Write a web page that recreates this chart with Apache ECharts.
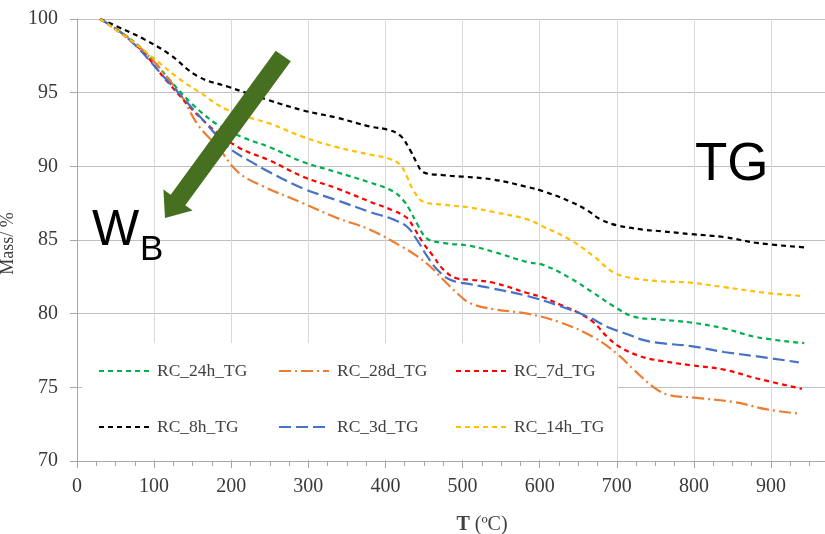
<!DOCTYPE html>
<html>
<head>
<meta charset="utf-8">
<script src="https://cdn.jsdelivr.net/npm/echarts@6/dist/echarts.min.js"></script>
<style>html,body{margin:0;padding:0;background:#fff}#c{width:825px;height:534px}</style>
</head>
<body>
<div id="c"></div>
<script>
// ---- data ----
const seriesNames = ['RC_24h_TG', 'RC_28d_TG', 'RC_7d_TG', 'RC_8h_TG', 'RC_3d_TG', 'RC_14h_TG'];
const xTicks = [0, 100, 200, 300, 400, 500, 600, 700, 800, 900];
const yTicks = [70, 75, 80, 85, 90, 95, 100];

const rc24hT = [30, 57, 90, 118, 148, 183, 218, 250, 293, 337, 380, 410, 423, 432, 441, 454, 475, 510, 540, 584, 605, 640, 670, 696, 722, 757, 796, 839, 882, 943];
const rc24hM = [100, 99.1, 97.7, 96.0, 94.3, 92.8, 91.9, 91.3, 90.3, 89.6, 88.9, 88.3, 87.7, 87.0, 86.1, 85.1, 84.8, 84.6, 84.2, 83.5, 83.3, 82.4, 81.4, 80.5, 79.8, 79.6, 79.4, 79.0, 78.4, 78.0];

const rc28dT = [30, 79, 131, 157, 183, 209, 239, 293, 337, 380, 423, 441, 458, 475, 497, 510, 540, 584, 627, 670, 702, 722, 748, 766, 800, 852, 895, 939];
const rc28dM = [100, 98.2, 95.1, 92.8, 91.3, 89.6, 88.7, 87.5, 86.5, 85.7, 84.5, 83.9, 83.2, 82.3, 81.2, 80.7, 80.3, 80.0, 79.4, 78.4, 77.2, 76.2, 75.0, 74.5, 74.3, 74.0, 73.5, 73.2];

const rc7dT = [30, 79, 118, 166, 209, 250, 293, 337, 380, 410, 428, 436, 449, 462, 475, 492, 510, 540, 584, 605, 627, 649, 670, 688, 705, 731, 757, 796, 839, 882, 940];
const rc7dM = [100, 98.1, 95.7, 93.0, 91.3, 90.4, 89.3, 88.5, 87.6, 87.0, 86.5, 85.9, 84.8, 83.9, 83.0, 82.4, 82.3, 82.1, 81.4, 81.1, 80.6, 80.1, 79.4, 78.4, 77.7, 77.1, 76.8, 76.5, 76.2, 75.6, 74.9];

const rc8hT = [30, 60, 88, 120, 157, 196, 248, 293, 337, 380, 402, 419, 432, 441, 449, 475, 501, 540, 584, 605, 640, 662, 679, 700, 735, 757, 796, 839, 882, 943];
const rc8hM = [100, 99.3, 98.6, 97.6, 96.1, 95.4, 94.5, 93.8, 93.3, 92.7, 92.5, 92.1, 91.1, 90.2, 89.6, 89.4, 89.3, 89.1, 88.6, 88.3, 87.6, 87.0, 86.4, 86.0, 85.7, 85.6, 85.4, 85.2, 84.8, 84.5];

const rc3dT = [30, 66, 114, 166, 196, 226, 250, 293, 337, 380, 410, 428, 441, 454, 467, 484, 510, 540, 584, 627, 662, 688, 714, 735, 757, 796, 839, 882, 936];
const rc3dM = [100, 98.7, 96.0, 93.0, 91.3, 90.3, 89.6, 88.5, 87.7, 86.9, 86.4, 85.9, 85.0, 83.9, 83.0, 82.3, 82.0, 81.7, 81.2, 80.5, 79.8, 79.1, 78.6, 78.2, 78.0, 77.8, 77.4, 77.1, 76.7];

const rc14hT = [30, 66, 105, 131, 157, 196, 250, 293, 337, 380, 406, 419, 428, 436, 449, 475, 510, 540, 584, 605, 640, 670, 696, 722, 757, 796, 839, 896, 940];
const rc14hM = [100, 98.7, 97.1, 96.0, 95.1, 93.8, 92.9, 92.0, 91.3, 90.8, 90.5, 90.1, 89.3, 88.4, 87.6, 87.4, 87.2, 86.9, 86.4, 85.9, 85.0, 83.9, 82.8, 82.4, 82.2, 82.1, 81.8, 81.4, 81.2];

// ---- build ----
const zip = (a, b) => a.map((v, i) => [v, b[i]]);
const serif = '"Liberation Serif", "DejaVu Serif", serif';
const sans = '"Liberation Sans", Arial, sans-serif';

const styles = {
  'RC_24h_TG': { color: '#00b050', type: [5, 4] },
  'RC_28d_TG': { color: '#ed7d31', type: [12, 4, 2, 4] },
  'RC_7d_TG':  { color: '#ff0000', type: [5, 4] },
  'RC_8h_TG':  { color: '#000000', type: [5, 4] },
  'RC_3d_TG':  { color: '#4472c4', type: [12, 5] },
  'RC_14h_TG': { color: '#ffc000', type: [5, 4] }
};
const dataMap = {
  'RC_24h_TG': zip(rc24hT, rc24hM),
  'RC_28d_TG': zip(rc28dT, rc28dM),
  'RC_7d_TG':  zip(rc7dT, rc7dM),
  'RC_8h_TG':  zip(rc8hT, rc8hM),
  'RC_3d_TG':  zip(rc3dT, rc3dM),
  'RC_14h_TG': zip(rc14hT, rc14hM)
};

const series = seriesNames.map(n => ({
  name: n,
  type: 'line',
  data: dataMap[n],
  symbol: 'none',
  smooth: 0.4,
  color: styles[n].color,
  lineStyle: { color: styles[n].color, width: 2.2, type: styles[n].type },
  z: 2
}));

const legendBase = {
  orient: 'vertical',
  itemWidth: 50,
  itemHeight: 20,
  itemGap: 36,
  padding: 0,
  selectedMode: false,
  itemStyle: { opacity: 0 },
  textStyle: { fontFamily: serif, fontSize: 17.5, color: '#404040', lineHeight: 20, padding: [0, 0, 0, 3] }
};

const chart = echarts.init(document.getElementById('c'), null, { renderer: 'canvas' });
chart.setOption({
  backgroundColor: '#ffffff',
  animation: false,
  grid: { left: 77, right: 0, top: 19, bottom: 73, containLabel: false, outerBoundsMode: 'none' },
  xAxis: {
    type: 'value',
    min: 0, max: 970, interval: 100,
    name: '{b|T} (ºC)',
    nameLocation: 'middle',
    nameGap: 54,
    nameTextStyle: {
      fontFamily: serif, fontSize: 20, color: '#404040', padding: [0, 0, 0, 62],
      rich: { b: { fontFamily: serif, fontSize: 20, fontWeight: 'bold', color: '#404040' } }
    },
    axisLine: { show: true, lineStyle: { color: '#a6a6a6', width: 1 } },
    axisTick: { show: true, length: 7, lineStyle: { color: '#a6a6a6' } },
    minorTick: { show: true, splitNumber: 4, length: 5, lineStyle: { color: '#a6a6a6' } },
    axisLabel: {
      fontFamily: serif, fontSize: 20, color: '#3a3a3a', margin: 16,
      showMaxLabel: false,
      formatter: v => (xTicks.indexOf(v) >= 0 ? String(v) : '')
    },
    splitLine: { show: true, showMaxLine: false, lineStyle: { color: '#d9d9d9', width: 1 } }
  },
  yAxis: {
    type: 'value',
    min: 70, max: 100, interval: 5,
    name: 'Mass/ %',
    nameLocation: 'middle',
    nameGap: 48,
    nameTextStyle: { fontFamily: serif, fontSize: 18, color: '#3a3a3a', padding: [0, 7, 0, 0] },
    axisLine: { show: true, lineStyle: { color: '#a6a6a6', width: 1 } },
    axisTick: { show: true, length: 7, lineStyle: { color: '#a6a6a6' } },
    axisLabel: {
      fontFamily: serif, fontSize: 20, color: '#3a3a3a', margin: 19,
      formatter: v => (yTicks.indexOf(v) >= 0 ? String(v) : '')
    },
    splitLine: { show: true, lineStyle: { color: '#bfbfbf', width: 1 } }
  },
  legend: [
    Object.assign({}, legendBase, { left: 98, top: 361, data: ['RC_24h_TG', 'RC_8h_TG'] }),
    Object.assign({}, legendBase, { left: 278, top: 361, data: ['RC_28d_TG', 'RC_3d_TG'] }),
    Object.assign({}, legendBase, { left: 455, top: 361, data: ['RC_7d_TG', 'RC_14h_TG'] })
  ],
  graphic: [
    { type: 'rect', z: 1, silent: true,
      shape: { x: 82, y: 343, width: 535, height: 116 },
      style: { fill: '#ffffff' } },
    { type: 'polygon', z: 50, silent: true,
      shape: { points: [[275.7, 50.7], [290.8, 61.3], [185.3, 205.3], [192.6, 210.6], [165, 218], [163.4, 189.4], [170.7, 194.7]] },
      style: { fill: '#467020' } },
    { type: 'text', z: 50, silent: true, left: 92, top: 206,
      style: { text: 'W', font: '50px ' + sans, fill: '#000' } },
    { type: 'text', z: 50, silent: true, left: 140, top: 233,
      style: { text: 'B', font: '35px ' + sans, fill: '#000' } },
    { type: 'text', z: 50, silent: true, left: 695, top: 139,
      style: { text: 'TG', font: '53px ' + sans, fill: '#000' } }
  ],
  series: series
});
</script>
</body>
</html>
